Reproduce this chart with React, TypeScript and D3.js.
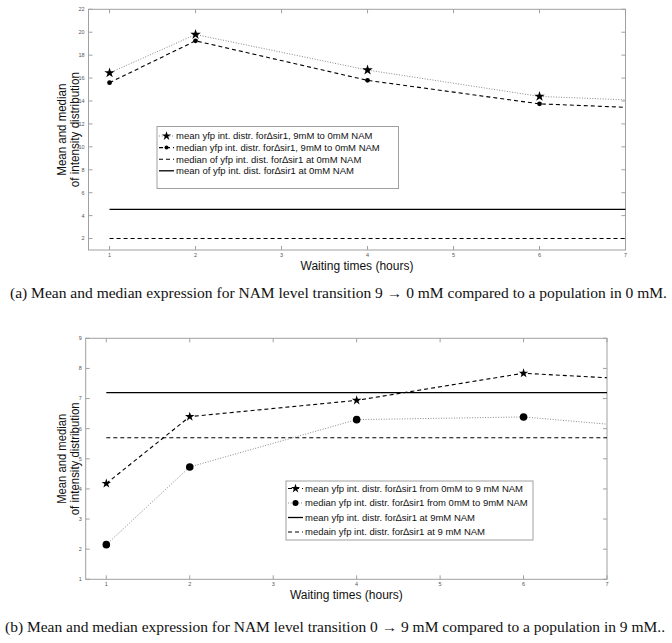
import * as d3 from 'd3';
import { useEffect, useRef } from 'react';

// waiting times (hours)
const hours = [1, 2, 4, 6, 7];
const xTicks = [1, 2, 3, 4, 5, 6, 7];

// (a) 9 -> 0 mM
const meanA = [16.45, 19.8, 16.7, 14.4, 14.1];
const medianA = [15.6, 19.25, 15.8, 13.75, 13.45];
const refMedianA = 2.0;
const refMeanA = 4.55;
const yTicksA = [2, 4, 6, 8, 10, 12, 14, 16, 18, 20, 22];
const legendA = [
    'mean yfp int. distr. for\u2206sir1, 9mM to 0mM NAM',
    'median yfp int. distr. for\u2206sir1, 9mM to 0mM NAM',
    'median of yfp int. dist. for\u2206sir1 at 0mM NAM',
    'mean of yfp int. dist. for\u2206sir1 at 0mM NAM',
];
const captionA =
    '(a) Mean and median expression for NAM level transition 9 \u2192 0 mM compared to a population in 0 mM.';

// (b) 0 -> 9 mM
const meanB = [4.18, 6.4, 6.94, 7.84, 7.69];
const medianB = [2.15, 4.73, 6.3, 6.39, 6.15];
const refMeanB = 7.2;
const refMedianB = 5.7;
const yTicksB = [1, 2, 3, 4, 5, 6, 7, 8, 9];
const legendB = [
    'mean yfp int. distr. for\u2206sir1 from 0mM to 9 mM NAM',
    'median yfp int. distr. for\u2206sir1 from 0mM to 9mM NAM',
    'mean yfp int. distr. for\u2206sir1 at 9mM NAM',
    'medain yfp int. distr. for\u2206sir1 at 9 mM NAM',
];
const captionB =
    '(b) Mean and median expression for NAM level transition 0 \u2192 9 mM compared to a population in 9 mM..';

const yLabel = ['Mean and median', 'of intensity distribution'];
const xLabel = 'Waiting times (hours)';

const W = 672;
const H = 643;
const axisColor = '#a0a0a0';
const sans = 'Liberation Sans, Arial, sans-serif';
const serif = 'Liberation Serif, Times New Roman, serif';

const styles = {
    dotted: { stroke: '#8a8a8a', dash: '1,1.6', width: 1 },
    dashed: { stroke: '#000', dash: '4,3', width: 1.1 },
    solid: { stroke: '#000', dash: null, width: 1.3 },
};

function drawPanel(svg, p) {
    const x = d3.scaleLinear().domain(p.xDomain).range([p.left, p.right]);
    const y = d3.scaleLinear().domain(p.yDomain).range([p.bottom, p.top]);
    const g = svg.append('g');

    // box
    g.append('rect')
        .attr('x', p.left)
        .attr('y', p.top)
        .attr('width', p.right - p.left)
        .attr('height', p.bottom - p.top)
        .attr('fill', 'white')
        .attr('stroke', axisColor)
        .attr('stroke-width', 1);

    const tl = 4;
    xTicks.forEach((t) => {
        g.append('line')
            .attr('x1', x(t)).attr('x2', x(t))
            .attr('y1', p.bottom).attr('y2', p.bottom - tl)
            .attr('stroke', axisColor);
        g.append('line')
            .attr('x1', x(t)).attr('x2', x(t))
            .attr('y1', p.top).attr('y2', p.top + tl)
            .attr('stroke', axisColor);
        g.append('text')
            .attr('x', x(t))
            .attr('y', p.bottom + 7)
            .attr('text-anchor', 'middle')
            .attr('font-family', sans)
            .attr('font-size', 5.5)
            .attr('fill', '#555')
            .text(t);
    });
    p.yTicks.forEach((t) => {
        g.append('line')
            .attr('x1', p.left).attr('x2', p.left + tl)
            .attr('y1', y(t)).attr('y2', y(t))
            .attr('stroke', axisColor);
        g.append('line')
            .attr('x1', p.right).attr('x2', p.right - tl)
            .attr('y1', y(t)).attr('y2', y(t))
            .attr('stroke', axisColor);
        g.append('text')
            .attr('x', p.left - 4)
            .attr('y', y(t))
            .attr('dy', '0.35em')
            .attr('text-anchor', 'end')
            .attr('font-family', sans)
            .attr('font-size', 5.5)
            .attr('fill', '#555')
            .text(t);
    });

    // reference lines
    p.refs.forEach((r) => {
        const s = styles[r.style];
        g.append('line')
            .attr('x1', x(1)).attr('x2', x(7))
            .attr('y1', y(r.value)).attr('y2', y(r.value))
            .attr('stroke', s.stroke)
            .attr('stroke-width', s.width)
            .attr('stroke-dasharray', s.dash);
    });

    const line = d3.line().x((d) => x(d[0])).y((d) => y(d[1]));
    p.series.forEach((sr) => {
        const s = styles[sr.style];
        const pts = hours.map((h, i) => [h, sr.values[i]]);
        g.append('path')
            .attr('d', line(pts))
            .attr('fill', 'none')
            .attr('stroke', s.stroke)
            .attr('stroke-width', s.width)
            .attr('stroke-dasharray', s.dash);
        // the point at 7 h sits on the axis edge and shows no marker
        pts.filter((d) => d[0] < 7).forEach((d) => {
            drawMarker(g, sr.marker, x(d[0]), y(d[1]), sr.size);
        });
    });

    // legend
    const lg = p.legend;
    g.append('rect')
        .attr('x', lg.x)
        .attr('y', lg.y)
        .attr('width', lg.w)
        .attr('height', lg.h)
        .attr('fill', 'white')
        .attr('stroke', axisColor);
    lg.items.forEach((it, i) => {
        const cy = lg.y + lg.pad + i * lg.step;
        const s = styles[it.style];
        g.append('line')
            .attr('x1', lg.x + 2).attr('x2', lg.x + 17)
            .attr('y1', cy).attr('y2', cy)
            .attr('stroke', s.stroke)
            .attr('stroke-width', s.width)
            .attr('stroke-dasharray', s.dash);
        if (it.marker) drawMarker(g, it.marker, lg.x + 9.5, cy, it.size);
        g.append('text')
            .attr('x', lg.x + 19)
            .attr('y', cy)
            .attr('dy', '0.35em')
            .attr('font-family', sans)
            .attr('font-size', 9.5)
            .attr('fill', '#111')
            .text(it.label);
    });

    // y label, two rotated lines (squeezed vertically like the original)
    const cy = (p.top + p.bottom) / 2;
    yLabel.forEach((txt, i) => {
        g.append('text')
            .attr('transform', `translate(${p.ylabelX + i * 13.5}, ${cy}) rotate(-90)`)
            .attr('text-anchor', 'middle')
            .attr('font-family', sans)
            .attr('font-size', 13)
            .attr('textLength', p.ylabelLen[i])
            .attr('lengthAdjust', 'spacingAndGlyphs')
            .attr('fill', '#111')
            .text(txt);
    });

    g.append('text')
        .attr('x', (p.left + p.right) / 2)
        .attr('y', p.bottom + 19.5)
        .attr('text-anchor', 'middle')
        .attr('font-family', sans)
        .attr('font-size', 12)
        .attr('fill', '#111')
        .text(xLabel);

    g.append('text')
        .attr('x', p.capX)
        .attr('y', p.capY)
        .attr('font-family', serif)
        .attr('font-size', 14)
        .attr('textLength', p.capW)
        .attr('lengthAdjust', 'spacingAndGlyphs')
        .attr('fill', '#111')
        .text(p.caption);
}

function drawMarker(g, kind, cx, cy, size) {
    if (kind === 'star') {
        g.append('path')
            .attr('d', d3.symbol(d3.symbolStar, size)())
            .attr('transform', `translate(${cx},${cy})`)
            .attr('fill', '#000');
    } else {
        g.append('circle')
            .attr('cx', cx)
            .attr('cy', cy)
            .attr('r', size)
            .attr('fill', '#000');
    }
}

const Chart = () => {
    const svgRef = useRef();

    useEffect(() => {
        d3.select(svgRef.current).selectAll('*').remove();
        const svg = d3.select(svgRef.current);
        svg.append('rect').attr('width', W).attr('height', H).attr('fill', 'white');

        drawPanel(svg, {
            left: 88.5, right: 625.5, top: 9.3, bottom: 250,
            xDomain: [0.755, 7], yDomain: [1, 22], yTicks: yTicksA,
            refs: [
                { value: refMeanA, style: 'solid' },
                { value: refMedianA, style: 'dashed' },
            ],
            series: [
                { values: meanA, style: 'dotted', marker: 'star', size: 34 },
                { values: medianA, style: 'dashed', marker: 'dot', size: 2.4 },
            ],
            legend: {
                x: 157, y: 126.5, w: 241.5, h: 62, pad: 9.5, step: 11.6,
                items: [
                    { label: legendA[0], style: 'dotted', marker: 'star', size: 26 },
                    { label: legendA[1], style: 'dashed', marker: 'dot', size: 2 },
                    { label: legendA[2], style: 'dashed' },
                    { label: legendA[3], style: 'solid' },
                ],
            },
            ylabelX: 65.5, ylabelLen: [92, 115],
            caption: captionA, capX: 10, capY: 298, capW: 657,
        });

        drawPanel(svg, {
            left: 85.7, right: 607, top: 338.3, bottom: 579.3,
            xDomain: [0.753, 7], yDomain: [1, 9], yTicks: yTicksB,
            refs: [
                { value: refMeanB, style: 'solid' },
                { value: refMedianB, style: 'dashed' },
            ],
            series: [
                { values: meanB, style: 'dashed', marker: 'star', size: 28 },
                { values: medianB, style: 'dotted', marker: 'dot', size: 3.8 },
            ],
            legend: {
                x: 286, y: 481, w: 247, h: 59, pad: 7.5, step: 14.5,
                items: [
                    { label: legendB[0], style: 'dashed', marker: 'star', size: 26 },
                    { label: legendB[1], style: 'dotted', marker: 'dot', size: 3 },
                    { label: legendB[2], style: 'solid' },
                    { label: legendB[3], style: 'dashed' },
                ],
            },
            ylabelX: 65.5, ylabelLen: [90, 113],
            caption: captionB, capX: 5, capY: 632, capW: 660,
        });
    }, []);

    return (
        <svg
            ref={svgRef}
            width={W}
            height={H}
            style={{ position: 'absolute', left: 0, top: 0 }}
        ></svg>
    );
};

export default function App() {
    return <Chart />;
}
